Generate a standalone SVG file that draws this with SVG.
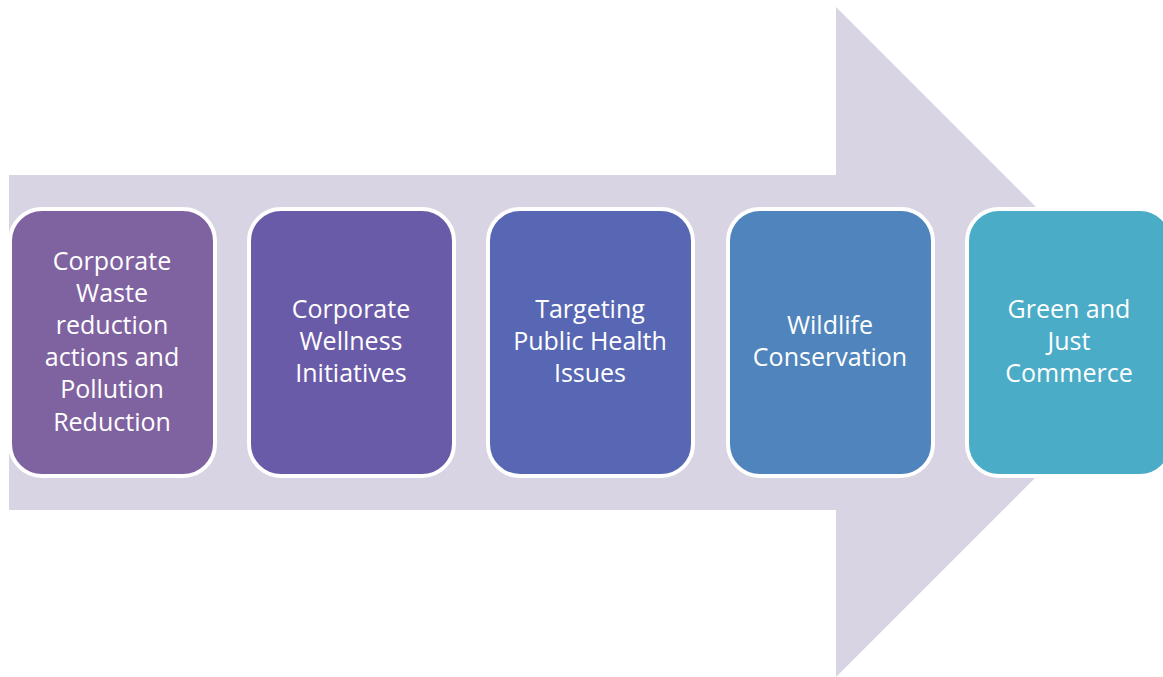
<svg xmlns="http://www.w3.org/2000/svg" width="1163" height="677" viewBox="0 0 1163 677">
<style>
.box{stroke:#ffffff;stroke-width:4}
.lbl{font-family:"Open Sans","Liberation Sans",sans-serif;font-size:25px;fill:#ffffff;text-anchor:middle}
</style>
<rect width="1163" height="677" fill="#ffffff"/>
<g id="arrow">
<polygon points="9,175 836,175 836,7 1171,342 836,677 836,510 9,510" fill="#D8D4E3"/>
</g>
<g id="connectors"></g>
<g id="node1">
<rect class="box" x="10" y="209" width="205" height="267" rx="32" fill="#7F63A1"/>
<text class="lbl" x="112" y="270">Corporate</text>
<text class="lbl" x="112" y="302">Waste</text>
<text class="lbl" x="112" y="334">reduction</text>
<text class="lbl" x="112" y="366">actions and</text>
<text class="lbl" x="112" y="398">Pollution</text>
<text class="lbl" x="112" y="431">Reduction</text>
</g>
<g id="node2">
<rect class="box" x="249" y="209" width="205" height="267" rx="32" fill="#6A5BA8"/>
<text class="lbl" x="351" y="318">Corporate</text>
<text class="lbl" x="351" y="350">Wellness</text>
<text class="lbl" x="351" y="382">Initiatives</text>
</g>
<g id="node3">
<rect class="box" x="488" y="209" width="205" height="267" rx="32" fill="#5867B3"/>
<text class="lbl" x="590" y="318">Targeting</text>
<text class="lbl" x="590" y="350">Public Health</text>
<text class="lbl" x="590" y="382">Issues</text>
</g>
<g id="node4">
<rect class="box" x="728" y="209" width="205" height="267" rx="32" fill="#5084BC"/>
<text class="lbl" x="830" y="334">Wildlife</text>
<text class="lbl" x="830" y="366">Conservation</text>
</g>
<g id="node5">
<rect class="box" x="967" y="209" width="205" height="267" rx="32" fill="#4AACC6"/>
<text class="lbl" x="1069" y="318">Green and</text>
<text class="lbl" x="1069" y="350">Just</text>
<text class="lbl" x="1069" y="382">Commerce</text>
</g>
</svg>
